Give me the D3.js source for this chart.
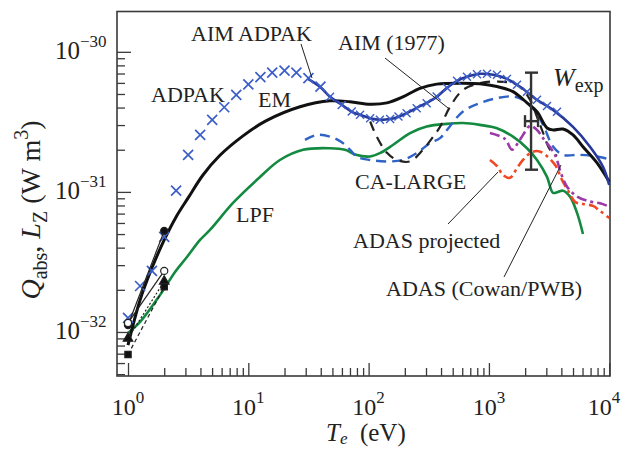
<!DOCTYPE html>
<html>
<head>
<meta charset="utf-8">
<script src="https://cdn.jsdelivr.net/npm/d3@7"></script>
<style>
  body { margin: 0; background: #fff; }
  text { font-family: "Liberation Serif", "DejaVu Serif", serif; fill: #222; }
</style>
</head>
<body>
<script>
// ADPAK crosses (big ones, low T)
var adpakT = [1, 1.26, 1.58, 2, 2.51, 3.16, 3.98, 5.01, 6.31, 7.94, 10, 12.6, 15.8, 20, 25.1, 31.6, 39.8];
var adpakV = [1.26e-32, 2.13e-32, 2.73e-32, 4.77e-32, 1.02e-31, 1.84e-31, 2.55e-31, 3.27e-31, 4.02e-31, 4.93e-31, 5.86e-31, 6.6e-31, 7.11e-31, 7.35e-31, 7.11e-31, 6.49e-31, 5.65e-31];
// small crosses sitting on the AIM ADPAK line
var aimMarkT = [47.8, 59.7, 72.4, 84.9, 103, 124, 151, 177, 207, 251, 304, 368, 448, 543, 657, 796, 964, 1167, 1413, 1712, 2073, 2510, 3040, 3680];
var aimMarkV = [4.77e-31, 4.18e-31, 3.75e-31, 3.55e-31, 3.36e-31, 3.27e-31, 3.31e-31, 3.45e-31, 3.65e-31, 3.96e-31, 4.30e-31, 4.8e-31, 5.53e-31, 6.21e-31, 6.63e-31, 6.91e-31, 6.97e-31, 6.85e-31, 6.41e-31, 5.81e-31, 5.18e-31, 4.54e-31, 4.11e-31, 3.73e-31];

var aimT = [31.3, 39.4, 47.8, 60, 72.4, 85, 103, 124, 151, 176, 208, 251, 304, 368, 448, 543, 657, 840, 1085, 1413, 1814, 2510, 3410, 5000, 6920, 8880, 10000];
var aimV = [6.41e-31, 5.63e-31, 4.77e-31, 4.18e-31, 3.73e-31, 3.55e-31, 3.36e-31, 3.27e-31, 3.31e-31, 3.43e-31, 3.66e-31, 3.98e-31, 4.32e-31, 4.77e-31, 5.53e-31, 6.21e-31, 6.63e-31, 6.97e-31, 6.85e-31, 6.41e-31, 5.63e-31, 4.54e-31, 3.85e-31, 2.91e-31, 2.10e-31, 1.51e-31, 1.12e-31];

var emT = [1, 1.26, 1.58, 2, 2.51, 3.16, 4.2, 5.76, 9.04, 14, 26.9, 47.8, 70, 103, 142, 193, 267, 368, 609, 840, 1167, 1585, 2073, 2510, 3040, 3410, 4130, 5000, 6050, 7920, 10000];
var emV = [8.07e-33, 1.69e-32, 2.86e-32, 4.54e-32, 6.63e-32, 9.06e-32, 1.32e-31, 1.81e-31, 2.51e-31, 3.21e-31, 4.05e-31, 4.47e-31, 4.4e-31, 4.22e-31, 4.32e-31, 4.77e-31, 5.49e-31, 5.88e-31, 5.97e-31, 5.91e-31, 5.65e-31, 5.2e-31, 4.32e-31, 3.73e-31, 2.86e-31, 2.77e-31, 2.81e-31, 2.55e-31, 2.1e-31, 1.61e-31, 1.18e-31];

var lpfT = [1, 1.26, 1.85, 2.46, 3.09, 3.97, 4.8, 7.46, 11.8, 18.3, 28.5, 47.8, 63.7, 78.5, 103, 124, 160, 221, 304, 446, 609, 840, 1167, 1585, 2073, 2510, 3040, 3410, 3750, 4130, 4720, 5400, 6050];
var lpfV = [9.84e-33, 1.18e-32, 1.84e-32, 2.68e-32, 3.43e-32, 4.54e-32, 5.35e-32, 8.34e-32, 1.22e-31, 1.69e-31, 2.0e-31, 2.05e-31, 2.0e-31, 1.84e-31, 1.79e-31, 1.89e-31, 2.17e-31, 2.63e-31, 2.93e-31, 3.06e-31, 3.10e-31, 3.01e-31, 2.85e-31, 2.48e-31, 2.05e-31, 1.69e-31, 1.28e-31, 9.84e-32, 1.0e-31, 1.02e-31, 9.25e-32, 7.08e-32, 5.01e-32];

var caT = [29.6, 37.3, 47.8, 59, 70, 80.1, 103, 142, 193, 251, 324, 392, 448, 609, 840, 1167, 1585, 1920, 2330, 2820, 3410, 4130, 5720, 7920, 10000];
var caV = [2.35e-31, 2.55e-31, 2.48e-31, 2.28e-31, 2.0e-31, 1.78e-31, 1.69e-31, 1.65e-31, 1.69e-31, 1.89e-31, 2.23e-31, 2.42e-31, 2.77e-31, 3.75e-31, 4.30e-31, 4.67e-31, 4.80e-31, 4.54e-31, 3.96e-31, 3.01e-31, 2.11e-31, 1.84e-31, 1.84e-31, 1.79e-31, 1.71e-31];

var aim77T = [103, 117, 142, 172, 221, 283, 343, 392, 475, 609, 840, 1167, 1712, 2200, 2510, 2820, 3220, 3680];
var aim77V = [3.18e-31, 2.47e-31, 1.9e-31, 1.69e-31, 1.65e-31, 2.0e-31, 2.47e-31, 2.91e-31, 4.05e-31, 5.35e-31, 5.97e-31, 6.14e-31, 5.81e-31, 4.54e-31, 3.43e-31, 2.64e-31, 2.0e-31, 1.81e-31];

var adasProjT = [1020, 1167, 1310, 1497, 1712, 1920, 2200, 2510, 2820, 3540, 4050, 4550, 5200, 6050, 7330, 8390, 10000];
var adasProjV = [1.69e-31, 1.53e-31, 1.32e-31, 1.26e-31, 1.48e-31, 1.69e-31, 1.89e-31, 1.96e-31, 1.89e-31, 1.56e-31, 1.22e-31, 1.02e-31, 8.49e-32, 8.2e-32, 7.94e-32, 7.31e-32, 6.52e-32];

var adasCowT = [1020, 1360, 1556, 1745, 1920, 2200, 2510, 2820, 3540, 3970, 4460, 5400, 6920, 8390, 10000];
var adasCowV = [2.63e-31, 2.39e-31, 2.0e-31, 2.24e-31, 2.55e-31, 2.96e-31, 2.77e-31, 2.42e-31, 1.84e-31, 1.36e-31, 1.09e-31, 9.25e-32, 8.53e-32, 8.3e-32, 7.85e-32];

// low-temperature points at 1 and 2 eV
var lowT = [1, 2];
var filledCircV = [1.12e-32, 5.27e-32];
var openCircV = [1.16e-32, 2.73e-32];
var filledTriV = [9.0e-33, 2.3e-32];
var filledSqV = [6.9e-33, 2.1e-32];

// W_exp measurement
var wT = 2240, wTlo = 1995, wThi = 2560;
var wV = 3.2e-31, wVlo = 1.44e-31, wVhi = 7.1e-31;

var xMajor = [1, 10, 100, 1000, 10000];
var yMajor = [1e-32, 1e-31, 1e-30];

var W = 623, H = 449;
var mLeft = 117, mRight = 610, mTop = 11.5, mBottom = 376;

var svg = d3.select("body").append("svg")
    .attr("width", W)
    .attr("height", H);

var x = d3.scaleLog().domain([0.81, 10150]).range([mLeft, mRight]);
var y = d3.scaleLog().domain([4.85e-33, 1.94e-30]).range([mBottom, mTop]);

function pairs(t, v) { return t.map(function(d, i) { return [d, v[i]]; }); }

var line = d3.line()
    .x(function(d) { return x(d[0]); })
    .y(function(d) { return y(d[1]); })
    .curve(d3.curveCatmullRom.alpha(0.5));

var straight = d3.line()
    .x(function(d) { return x(d[0]); })
    .y(function(d) { return y(d[1]); });

// minor tick values
var xMinor = [], yMinor = [];
[0, 1, 2, 3].forEach(function(k) {
  for (var m = 2; m <= 9; m++) xMinor.push(m * Math.pow(10, k));
});
[-33, -32, -31, -30].forEach(function(k) {
  for (var m = 2; m <= 9; m++) {
    var v = m * Math.pow(10, k);
    if (v > 4.85e-33 && v < 1.94e-30) yMinor.push(v);
  }
});

var axisCol = "#3a3a3a";

function styleAxis(g) {
  g.select(".domain").remove();
  g.selectAll("line").attr("stroke", axisCol).attr("stroke-width", 1.3);
}

svg.append("g")
    .attr("transform", "translate(0," + mBottom + ")")
    .call(d3.axisBottom(x).tickValues(xMajor).tickSize(-13).tickFormat(""))
    .call(styleAxis);
svg.append("g")
    .attr("transform", "translate(0," + mBottom + ")")
    .call(d3.axisBottom(x).tickValues(xMinor).tickSize(-8).tickFormat(""))
    .call(styleAxis);
svg.append("g")
    .attr("transform", "translate(" + mLeft + ",0)")
    .call(d3.axisLeft(y).tickValues(yMajor).tickSize(-14).tickFormat(""))
    .call(styleAxis);
svg.append("g")
    .attr("transform", "translate(" + mLeft + ",0)")
    .call(d3.axisLeft(y).tickValues(yMinor).tickSize(-8).tickFormat(""))
    .call(styleAxis);

svg.append("rect")
    .attr("x", mLeft).attr("y", mTop)
    .attr("width", mRight - mLeft).attr("height", mBottom - mTop)
    .attr("fill", "none")
    .attr("stroke", axisCol)
    .attr("stroke-width", 1.6);

// tick labels
var xl = svg.append("g").selectAll("text")
    .data(xMajor)
  .enter().append("text")
    .attr("x", function(d) { return Math.min(x(d), 604); })
    .attr("y", mBottom + 39)
    .attr("text-anchor", "middle")
    .style("font-size", "24px");
xl.append("tspan").text("10");
xl.append("tspan")
    .attr("dy", -12)
    .style("font-size", "17px")
    .text(function(d) { return Math.round(Math.log10(d)); });

var yl = svg.append("g").selectAll("text")
    .data(yMajor)
  .enter().append("text")
    .attr("x", 55)
    .attr("y", function(d) { return y(d) + 7; })
    .style("font-size", "25px");
yl.append("tspan").text("10");
yl.append("tspan")
    .attr("dy", -12)
    .style("font-size", "17px")
    .text(function(d) { return "\u2212" + Math.round(-Math.log10(d)); });

// axis titles
var xt = svg.append("text")
    .attr("x", 326).attr("y", 441)
    .style("font-size", "25px");
xt.append("tspan").style("font-style", "italic").text("T");
xt.append("tspan").attr("dy", 3).style("font-size", "17px").style("font-style", "italic").text("e");
xt.append("tspan").attr("dy", -3).text("\u2002(eV)");

var yt = svg.append("text")
    .attr("transform", "translate(40,210) rotate(-90)")
    .attr("text-anchor", "middle")
    .style("font-size", "28px");
yt.append("tspan").style("font-style", "italic").text("Q");
yt.append("tspan").attr("dy", 7).style("font-size", "20px").text("abs");
yt.append("tspan").attr("dy", -7).text(", ");
yt.append("tspan").style("font-style", "italic").text("L");
yt.append("tspan").attr("dy", 7).style("font-size", "20px").text("Z");
yt.append("tspan").attr("dy", -7).text(" (W m");
yt.append("tspan").attr("dy", -12).style("font-size", "20px").text("3");
yt.append("tspan").attr("dy", 12).text(")");

var plot = svg.append("g");

// curves
plot.append("path").datum(pairs(lpfT, lpfV))
    .attr("d", line).attr("fill", "none")
    .attr("stroke", "#138a40").attr("stroke-width", 2.6);

plot.append("path").datum(pairs(caT, caV))
    .attr("d", line).attr("fill", "none")
    .attr("stroke", "#2f63c6").attr("stroke-width", 2.4)
    .attr("stroke-dasharray", "10,6");

plot.append("path").datum(pairs(aim77T, aim77V))
    .attr("d", line).attr("fill", "none")
    .attr("stroke", "#222").attr("stroke-width", 2.2)
    .attr("stroke-dasharray", "10,7");

plot.append("path").datum(pairs(adasProjT, adasProjV))
    .attr("d", line).attr("fill", "none")
    .attr("stroke", "#f04822").attr("stroke-width", 2.6)
    .attr("stroke-dasharray", "10,4,3,4");

plot.append("path").datum(pairs(adasCowT, adasCowV))
    .attr("d", line).attr("fill", "none")
    .attr("stroke", "#9a3aa6").attr("stroke-width", 2.6)
    .attr("stroke-dasharray", "10,4,3,4");

plot.append("path").datum(pairs(emT, emV))
    .attr("d", line).attr("fill", "none")
    .attr("stroke", "#111").attr("stroke-width", 3);

plot.append("path").datum(pairs(aimT, aimV))
    .attr("d", line).attr("fill", "none")
    .attr("stroke", "#27399a").attr("stroke-width", 2.6);

// crosses
function crosses(t, v, r, col, w) {
  var d = pairs(t, v);
  plot.append("g").selectAll("path")
      .data(d)
    .enter().append("path")
      .attr("d", function(p) {
        var cx = x(p[0]), cy = y(p[1]);
        return "M" + (cx - r) + "," + (cy - r) + "L" + (cx + r) + "," + (cy + r) +
               "M" + (cx - r) + "," + (cy + r) + "L" + (cx + r) + "," + (cy - r);
      })
      .attr("stroke", col).attr("stroke-width", w).attr("fill", "none");
}
crosses(adpakT, adpakV, 5, "#3c5ec8", 1.7);
crosses(aimMarkT, aimMarkV, 4, "#3c5ec8", 1.4);

// low T points
plot.append("path").datum(pairs(lowT, filledCircV)).attr("d", straight)
    .attr("fill", "none").attr("stroke", "#222").attr("stroke-width", 1.2);
plot.append("path").datum(pairs(lowT, openCircV)).attr("d", straight)
    .attr("fill", "none").attr("stroke", "#222").attr("stroke-width", 1.2);
plot.append("path").datum(pairs(lowT, filledTriV)).attr("d", straight)
    .attr("fill", "none").attr("stroke", "#222").attr("stroke-width", 1.2)
    .attr("stroke-dasharray", "2,2");
plot.append("path").datum(pairs(lowT, filledSqV)).attr("d", straight)
    .attr("fill", "none").attr("stroke", "#222").attr("stroke-width", 1.2)
    .attr("stroke-dasharray", "4,3");

function symbols(v, type, fill) {
  plot.append("g").selectAll("path")
      .data(pairs(lowT, v))
    .enter().append("path")
      .attr("transform", function(p) { return "translate(" + x(p[0]) + "," + y(p[1]) + ")"; })
      .attr("d", d3.symbol().type(type).size(40))
      .attr("fill", fill).attr("stroke", "#222").attr("stroke-width", 1.2);
}
symbols(filledCircV, d3.symbolCircle, "#111");
symbols(openCircV, d3.symbolCircle, "#fff");
symbols(filledTriV, d3.symbolTriangle, "#111");
symbols(filledSqV, d3.symbolSquare, "#111");

// W_exp error bars
var eb = plot.append("g").attr("stroke", "#333").attr("stroke-width", 2.4).attr("fill", "none");
eb.append("line").attr("x1", x(wT)).attr("x2", x(wT)).attr("y1", y(wVhi)).attr("y2", y(wVlo));
eb.append("line").attr("x1", x(wTlo)).attr("x2", x(wThi)).attr("y1", y(wVhi)).attr("y2", y(wVhi));
eb.append("line").attr("x1", x(wTlo)).attr("x2", x(wThi)).attr("y1", y(wVlo)).attr("y2", y(wVlo));
eb.append("line").attr("x1", x(wTlo)).attr("x2", x(wThi)).attr("y1", y(wV)).attr("y2", y(wV));
eb.append("line").attr("x1", x(wTlo)).attr("x2", x(wTlo)).attr("y1", y(wV) - 6).attr("y2", y(wV) + 6);
eb.append("line").attr("x1", x(wThi)).attr("x2", x(wThi)).attr("y1", y(wV) - 6).attr("y2", y(wV) + 6);

// annotations
var leaders = [
  [301, 44, 312, 78],
  [385, 58, 448, 108],
  [448, 224, 498, 172],
  [504, 277, 561, 165]
];
svg.append("g").selectAll("line")
    .data(leaders)
  .enter().append("line")
    .attr("x1", function(d) { return d[0]; })
    .attr("y1", function(d) { return d[1]; })
    .attr("x2", function(d) { return d[2]; })
    .attr("y2", function(d) { return d[3]; })
    .attr("stroke", "#222").attr("stroke-width", 1);

var labels = [
  ["AIM ADPAK", 191, 41],
  ["AIM (1977)", 338, 50],
  ["ADPAK", 151, 102],
  ["EM", 258, 107],
  ["CA-LARGE", 355, 189],
  ["LPF", 236, 222],
  ["ADAS projected", 353, 248],
  ["ADAS (Cowan/PWB)", 386, 296]
];
svg.append("g").selectAll("text")
    .data(labels)
  .enter().append("text")
    .attr("x", function(d) { return d[1]; })
    .attr("y", function(d) { return d[2]; })
    .style("font-size", "22px")
    .text(function(d) { return d[0]; });

var wl = svg.append("text").attr("x", 553).attr("y", 86).style("font-size", "26px");
wl.append("tspan").style("font-style", "italic").text("W");
wl.append("tspan").attr("dy", 6).style("font-size", "20px").text("exp");
</script>
</body>
</html>
